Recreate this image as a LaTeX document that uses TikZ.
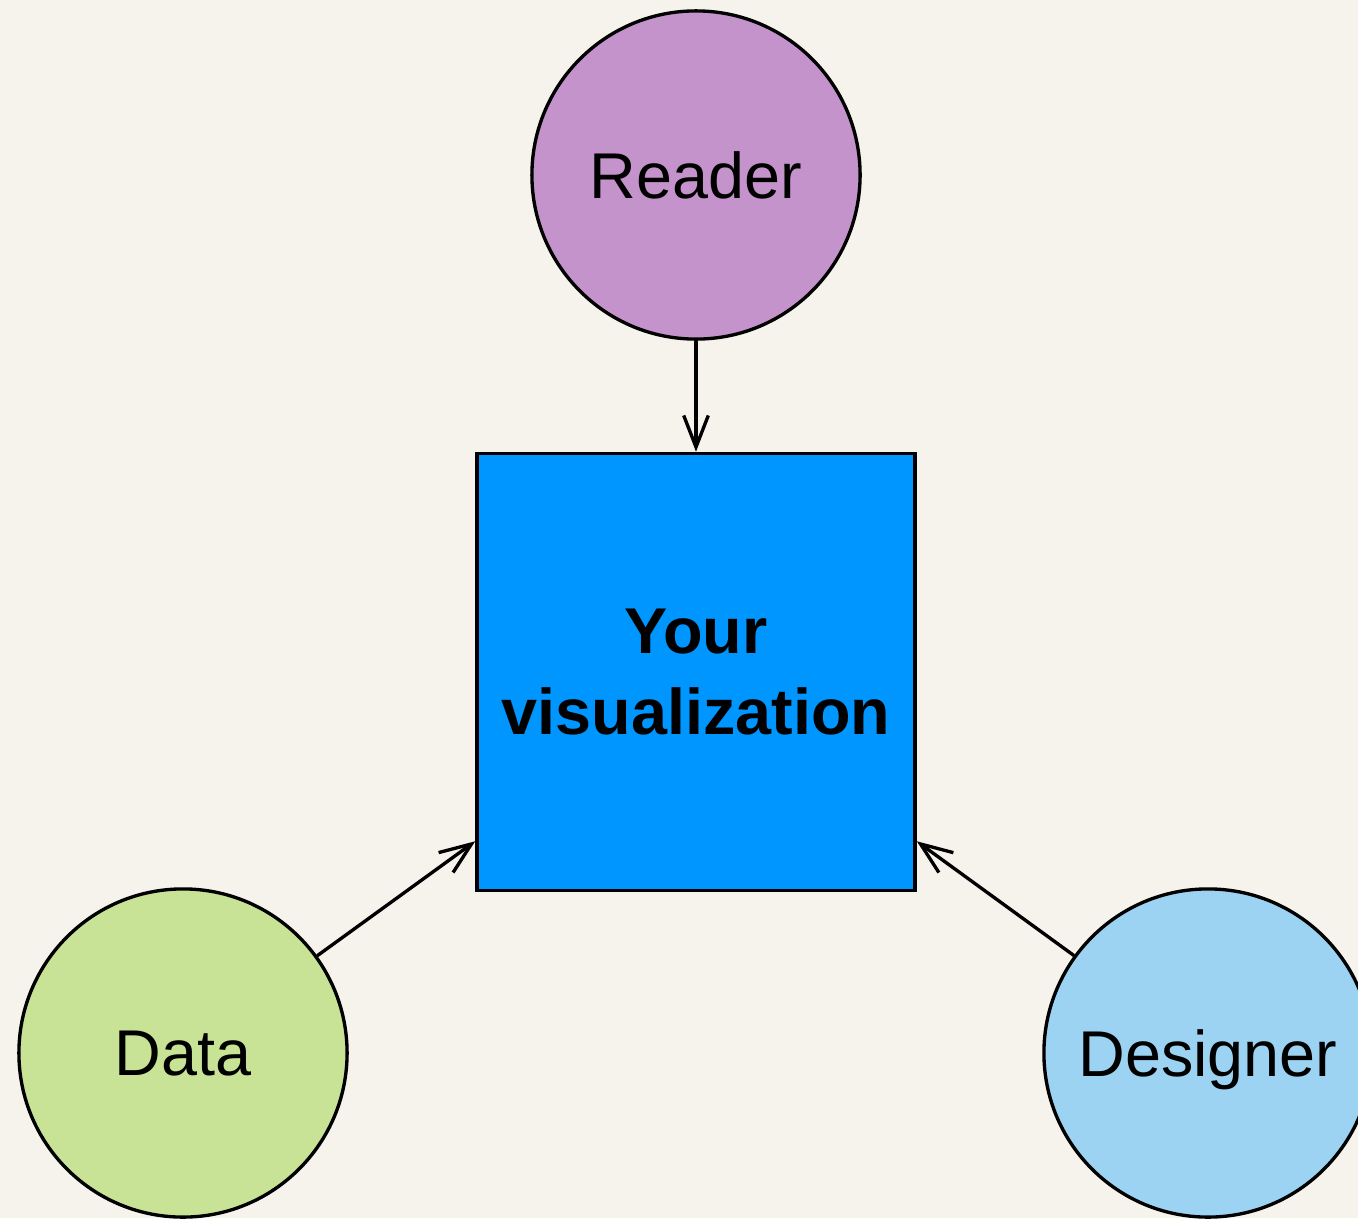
\documentclass[tikz,border=0pt]{standalone}
\usepackage{fontspec}
\setmainfont{Liberation Sans}
\usepackage{xcolor}
\usepackage{tikz}
\usetikzlibrary{positioning,arrows.meta}

\definecolor{paper}{RGB}{246,243,237}
\definecolor{readerc}{RGB}{196,147,203}
\definecolor{visc}{RGB}{0,150,255}
\definecolor{datac}{RGB}{200,227,150}
\definecolor{designc}{RGB}{157,211,242}

\begin{document}
\begin{tikzpicture}[x=0.01cm, y=-0.01cm,
    font=\fontsize{18.4}{22.8}\selectfont,
    circ/.style={draw, circle, line width=0.95pt, minimum size=3.28cm, inner sep=0pt,
                 text depth=0pt},
    vis/.style={draw, fill=visc, line width=0.95pt, minimum width=4.38cm,
                minimum height=4.37cm, align=center, inner sep=0pt, font=\fontsize{18.4}{22.8}\selectfont\bfseries},
    arr/.style={-{Straight Barb[length=9pt, width=7pt]}, line width=0.95pt}]

    % paper
    \fill[paper] (0,0) rectangle (1358,1218);
    \clip (0,0) rectangle (1358,1218);

    % ============ nodes ============
    \node[circ, fill=readerc] (RD) at (696,175) {Reader};
    \node[vis] (VZ) at (696,672) {Your\\visualization};
    \node[circ, fill=datac] (DT) at (183,1053) {Data};
    \node[circ, fill=designc] (DS) at (1208,1053) {Designer};

    % ============ arrows ============
    \draw[arr] (RD.south) -- (VZ.north);
    \draw[arr] (DT) -- ([yshift=0.51cm]VZ.south west);
    \draw[arr] (DS) -- ([yshift=0.51cm]VZ.south east);

\end{tikzpicture}
\end{document}
